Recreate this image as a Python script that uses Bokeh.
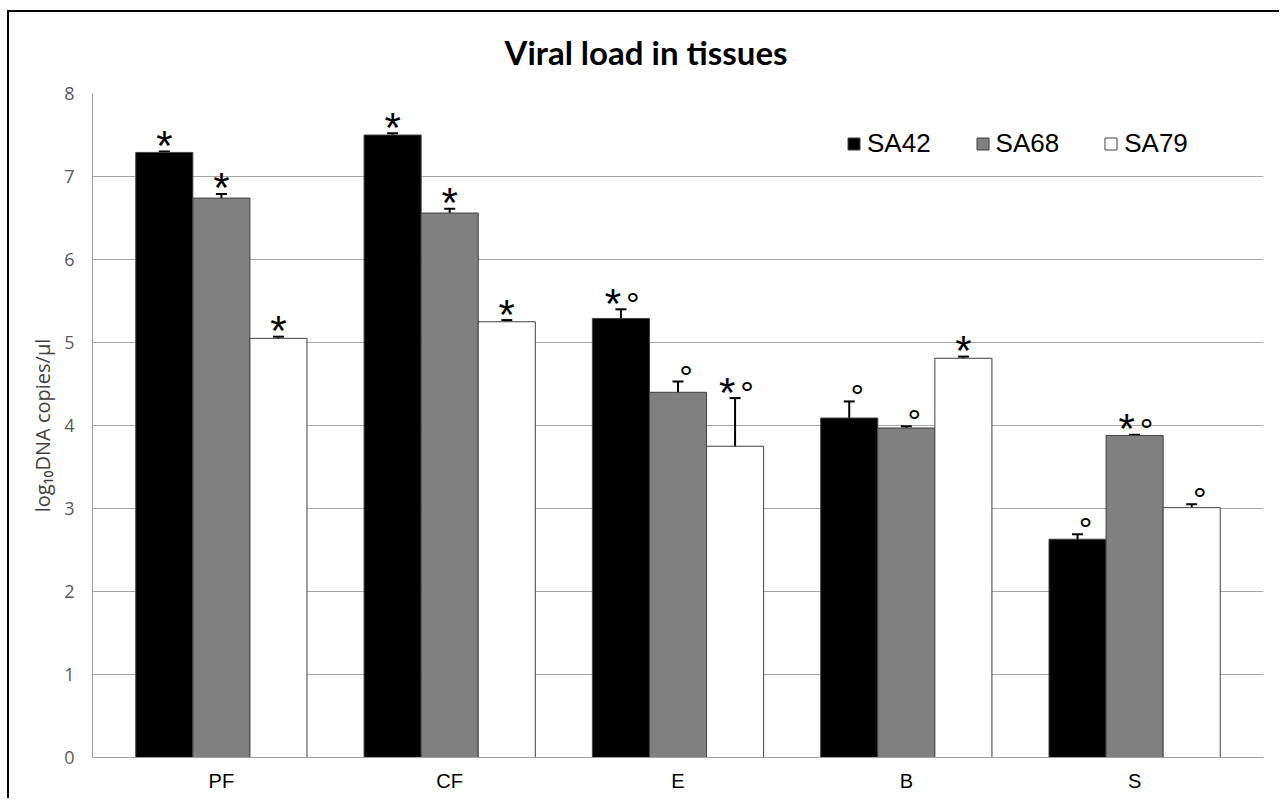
from bokeh.plotting import figure
from bokeh.models import (ColumnDataSource, FactorRange, Range1d, Whisker, TeeHead,
                          Legend, LegendItem)
from bokeh.transform import dodge
from bokeh.core.properties import value
from bokeh.embed import file_html
from bokeh.resources import INLINE

# ---------------- data ----------------
tissues = ["PF", "CF", "E", "B", "S"]
series = ["SA42", "SA68", "SA79"]

sa42 = [7.29, 7.50, 5.29, 4.09, 2.63]
sa68 = [6.74, 6.56, 4.40, 3.97, 3.88]
sa79 = [5.05, 5.25, 3.75, 4.81, 3.01]

sa42_err = [0.01, 0.02, 0.11, 0.20, 0.06]
sa68_err = [0.05, 0.05, 0.13, 0.02, 0.01]
sa79_err = [0.02, 0.02, 0.58, 0.02, 0.04]

# significance marks: "*" and "°"
sa42_star = [True, True, True, False, False]
sa68_star = [True, True, False, False, True]
sa79_star = [True, True, True, True, False]
sa42_circ = [False, False, True, True, True]
sa68_circ = [False, False, True, True, True]
sa79_circ = [False, False, True, False, True]

y_ticks = [0, 1, 2, 3, 4, 5, 6, 7, 8]

title_text = "Viral load in tissues"
y_label = "log\u2081\u2080DNA copies/\u00b5l"

# ---------------- figure ----------------
W, H = 1272, 788
p = figure(width=W, height=H, output_backend="svg", toolbar_location=None,
           x_range=FactorRange(*tissues, range_padding=0.0258),
           y_range=Range1d(0, 8),
           min_border_left=83, min_border_right=18,
           min_border_top=81, min_border_bottom=43)
p.styles = {"margin-left": "7px", "margin-top": "10px",
            "border-left": "2px solid #000000", "border-top": "2px solid #000000"}

p.outline_line_color = None
p.background_fill_color = "white"
p.border_fill_color = "white"

p.title.text = title_text
p.title.text_font = "Lato"
p.title.text_font_size = "33px"
p.title.text_font_style = "bold"
p.title.text_color = "#000000"
p.title.align = "left"
p.title.vertical_align = "top"
p.title.offset = 412
p.title.standoff = 39

p.xgrid.grid_line_color = None
p.ygrid.grid_line_color = "#a6a6a6"
p.ygrid.grid_line_width = 1

p.yaxis.ticker = y_ticks
p.yaxis.axis_line_color = "#a0a0a0"
p.yaxis.major_tick_line_color = None
p.yaxis.minor_tick_line_color = None
p.yaxis.major_tick_out = 0
p.yaxis.major_label_standoff = 18
p.yaxis.major_label_text_font = "Open Sans"
p.yaxis.major_label_text_font_size = "18px"
p.yaxis.major_label_text_color = "#595959"
p.yaxis.axis_label = y_label
p.yaxis.axis_label_text_font = "Open Sans"
p.yaxis.axis_label_text_font_size = "20px"
p.yaxis.axis_label_text_font_style = "normal"
p.yaxis.axis_label_text_color = "#404040"
p.yaxis.axis_label_standoff = 5

p.xaxis.axis_line_color = "#a0a0a0"
p.xaxis.major_tick_line_color = None
p.xaxis.minor_tick_line_color = None
p.xaxis.major_tick_out = 0
p.xaxis.major_label_standoff = 12
p.xaxis.major_label_text_font = "Liberation Sans"
p.xaxis.major_label_text_font_size = "20px"
p.xaxis.major_label_text_color = "#000000"

colors = ["#000000", "#808080", "#ffffff"]
offsets = [-0.25, 0.0, 0.25]
vals = [sa42, sa68, sa79]
errs = [sa42_err, sa68_err, sa79_err]
stars = [sa42_star, sa68_star, sa79_star]
circs = [sa42_circ, sa68_circ, sa79_circ]

items = []
for name, v, e, st, ci, col, off in zip(series, vals, errs, stars, circs, colors, offsets):
    top_err = [a + b for a, b in zip(v, e)]
    src = ColumnDataSource(dict(tissue=tissues, val=v,
                                upper=top_err,
                                lower=[a - b for a, b in zip(v, e)]))
    xs = dodge("tissue", off, range=p.x_range)
    r = p.vbar(x=xs, top="val", width=0.25, source=src,
               fill_color=col, line_color="#404040", line_width=1)
    items.append(LegendItem(label=name, renderers=[r]))
    p.add_layout(Whisker(base=xs, upper="upper", lower="lower", source=src,
                         line_color="#000000", line_width=2,
                         upper_head=TeeHead(size=11, line_width=2, line_color="#000000"),
                         lower_head=TeeHead(size=11, line_width=2, line_color="#000000")))
    # annotation marks
    s_t, s_y, s_dx = [], [], []
    c_t, c_y, c_dx = [], [], []
    for t, y, a, b in zip(tissues, top_err, st, ci):
        if a:
            s_t.append(t); s_y.append(y); s_dx.append(-8 if b else 0)
        if b:
            c_t.append(t); c_y.append(y); c_dx.append(12 if a else 8)
    ssrc = ColumnDataSource(dict(t=s_t, y=s_y, dx=s_dx, txt=["*"] * len(s_t)))
    csrc = ColumnDataSource(dict(t=c_t, y=c_y, dx=c_dx, txt=["\u00b0"] * len(c_t)))
    p.text(x=dodge("t", off, range=p.x_range), y="y", text="txt", source=ssrc,
           x_offset="dx", y_offset=-6, text_align="center", text_baseline="alphabetic",
           text_font=value("Liberation Sans"), text_font_size="42px", text_color="#000000")
    p.text(x=dodge("t", off, range=p.x_range), y="y", text="txt", source=csrc,
           x_offset="dx", y_offset=-5, text_align="center", text_baseline="alphabetic",
           text_font=value("Liberation Sans"), text_font_size="34px", text_color="#000000")

legend = Legend(items=items, orientation="horizontal", location=(754, 598),
                label_text_font="Liberation Sans", label_text_font_size="26px",
                label_text_color="#000000",
                glyph_width=15, glyph_height=15, label_standoff=6, spacing=44,
                padding=0, margin=0, border_line_alpha=0, background_fill_alpha=0)
p.add_layout(legend)

open("out.html", "w").write(file_html(p, INLINE))
